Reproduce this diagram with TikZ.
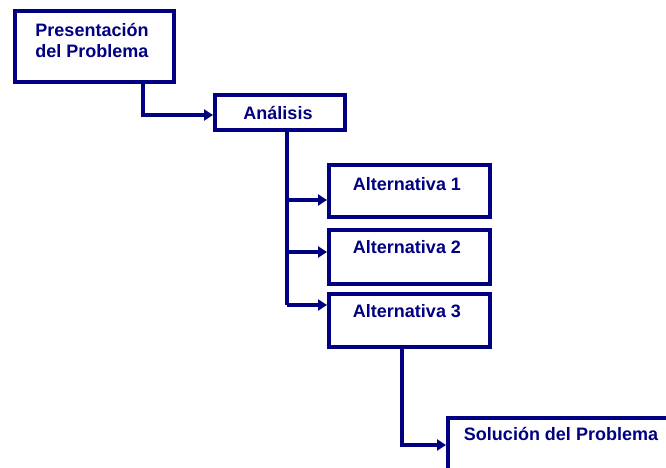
\documentclass[tikz,border=0pt]{standalone}
\usepackage{fontspec}
\setmainfont{Liberation Sans}
\usetikzlibrary{arrows.meta,calc}
\definecolor{navy}{HTML}{000080}
\tikzset{
  box/.style={draw=navy, line width=4.2pt, fill=white, rectangle, inner sep=0pt, anchor=north west},
  lbl/.style={text=navy, font=\bfseries\fontsize{18}{21}\selectfont, inner sep=0pt, align=center},
  conn/.style={draw=navy, line width=3.8pt, -{Triangle[length=9pt,width=11pt]}},
  plain/.style={draw=navy, line width=3.8pt}
}
\begin{document}
\begin{tikzpicture}[x=1pt,y=-1pt]
\clip (0,0) rectangle (666,468);
\fill[white] (0,0) rectangle (666,468);
% boxes
\node[box, minimum width=159pt, minimum height=71pt] (p) at (13,9) {};
\node[box, minimum width=130pt, minimum height=35pt] (an) at (213,93) {};
\node[box, minimum width=161pt, minimum height=52pt] (a1) at (327,163) {};
\node[box, minimum width=161pt, minimum height=54pt] (a2) at (327,228) {};
\node[box, minimum width=161pt, minimum height=53pt] (a3) at (327,292) {};
\node[box, minimum width=240pt, minimum height=70pt] (s) at (446,416) {};
% labels
\node[lbl] (tp) at (92,40) {Presentación\\del Problema};
\node[lbl] (tan) at (278,113) {Análisis};
\node[lbl] (t1) at (407,184) {Alternativa 1};
\node[lbl] (t2) at (407,247) {Alternativa 2};
\node[lbl] (t3) at (407,311) {Alternativa 3};
\node[lbl] (ts) at (561,434) {Solución del Problema};
% connector coordinates
\coordinate (pd) at (143,80);
\coordinate (ad) at (287,128);
\coordinate (b1) at (287,200);
\coordinate (b2) at (287,252);
\coordinate (b3) at (287,305);
\coordinate (sd) at (402,345);
% connectors
\draw[conn] (pd) |- (an.west |- 0,115);
\draw[plain] (ad) -- (b3);
\draw[conn] (b1) -- (a1.west |- b1);
\draw[conn] (b2) -- (a2.west |- b2);
\draw[conn] (b3) -- (a3.west |- b3);
\draw[conn] (sd) |- (s.west |- 0,445);
\end{tikzpicture}
\end{document}
